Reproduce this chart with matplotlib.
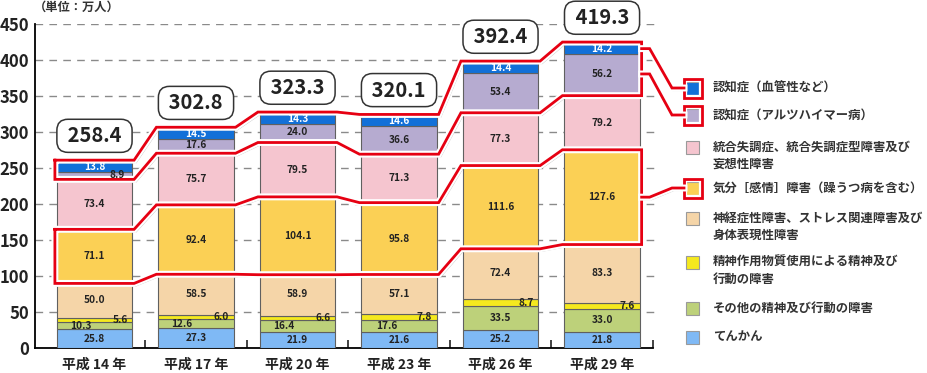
import matplotlib
matplotlib.use('Agg')
import matplotlib.pyplot as plt
import matplotlib.patheffects as pe
from matplotlib.patches import Rectangle
import numpy as np

plt.rcParams['font.family'] = ['Noto Sans CJK JP', 'DejaVu Sans']

# ---------------- data ----------------
years = ['平成 14 年', '平成 17 年', '平成 20 年', '平成 23 年', '平成 26 年', '平成 29 年']
totals = [258.4, 302.8, 323.3, 320.1, 392.4, 419.3]
epilepsy = [25.8, 27.3, 21.9, 21.6, 25.2, 21.8]
other = [10.3, 12.6, 16.4, 17.6, 33.5, 33.0]
substance = [5.6, 6.0, 6.6, 7.8, 8.7, 7.6]
neurotic = [50.0, 58.5, 58.9, 57.1, 72.4, 83.3]
mood = [71.1, 92.4, 104.1, 95.8, 111.6, 127.6]
schizo = [73.4, 75.7, 79.5, 71.3, 77.3, 79.2]
alzheimer = [8.9, 17.6, 24.0, 36.6, 53.4, 56.2]
vascular = [13.8, 14.5, 14.3, 14.6, 14.4, 14.2]

lab_epilepsy = 'てんかん'
lab_other = 'その他の精神及び行動の障害'
lab_substance = '精神作用物質使用による精神及び\n行動の障害'
lab_neurotic = '神経症性障害、ストレス関連障害及び\n身体表現性障害'
lab_mood = '気分［感情］障害（躁うつ病を含む）'
lab_schizo = '統合失調症、統合失調症型障害及び\n妄想性障害'
lab_alz = '認知症（アルツハイマー病）'
lab_vasc = '認知症（血管性など）'
unit_label = '（単位：万人）'
yticks = [0, 50, 100, 150, 200, 250, 300, 350, 400, 450]

# ---------------- styles ----------------
series = [epilepsy, other, substance, neurotic, mood, schizo, alzheimer, vascular]
labels = [lab_epilepsy, lab_other, lab_substance, lab_neurotic, lab_mood, lab_schizo, lab_alz, lab_vasc]
colors = ['#7fb9f5', '#bdd17a', '#f5e91e', '#f5d5a8', '#fbd055', '#f5c5cf', '#b6abd0', '#1270d8']
txtcol = ['#222'] * 7 + ['white']
xoff = [[0] * 6,
        [-0.13, -0.14, -0.14, -0.12, 0, 0],
        [0.25] * 6,
        [0] * 6, [0] * 6, [0] * 6,
        [0.22, 0, 0, 0, 0, 0],
        [0] * 6]

W, H = 927, 373
fig = plt.figure(figsize=(W / 100, H / 100), dpi=100)
ax_l, ax_r, ax_b, ax_t = 35, 660, 348, 24
ax = fig.add_axes([ax_l / W, (H - ax_b) / H, (ax_r - ax_l) / W, (ax_b - ax_t) / H])

n = len(years)
x = np.arange(n)
bw = 0.74
ax.set_xlim(-0.586, 5.571)
ax.set_ylim(0, 450)

bottom = np.zeros(n)
cum = []
for k, (vals, c) in enumerate(zip(series, colors)):
    vals = np.array(vals)
    ax.bar(x, vals, bw, bottom=bottom, color=c, edgecolor='#606060', linewidth=0.8, zorder=3)
    for i in range(n):
        ax.text(x[i] + xoff[k][i], bottom[i] + vals[i] / 2, f'{vals[i]:.1f}',
                ha='center', va='center', fontsize=7.3, fontweight='bold', color=txtcol[k], zorder=6)
    cum.append(bottom.copy())
    bottom = bottom + vals
cum.append(bottom.copy())
tops = bottom

for i in range(n):
    ax.annotate(f' {totals[i]:.1f} ', (x[i], tops[i]), xytext=(0, 11), textcoords='offset points',
                ha='center', va='bottom', fontsize=14.5, fontweight='bold', color='#222',
                bbox=dict(boxstyle='round,pad=0.3,rounding_size=0.55', fc='white', ec='#333', lw=1.1),
                zorder=7)

# axes styling
for s in ['top', 'right']:
    ax.spines[s].set_visible(False)
ax.spines['left'].set_linewidth(1.3)
ax.spines['bottom'].set_linewidth(1.3)
ax.spines['bottom'].set_bounds(-0.586, 5.5)
ax.set_yticks(yticks)
ax.set_yticklabels([str(v) for v in yticks], fontsize=12, fontweight='bold', color='#222')
ax.tick_params(axis='y', length=0, pad=4)
ax.set_xticks(x)
ax.set_xticklabels(years, fontsize=10, fontweight='bold', color='#222')
ax.tick_params(axis='x', length=0, pad=7)
ax.set_xticks(np.arange(n) + 0.5, minor=True)
ax.tick_params(axis='x', which='minor', direction='in', length=6, width=1.2, color='#222')
ax.yaxis.grid(True, linestyle=(0, (5.5, 4.5)), color='#8a8a8a', linewidth=1)
ax.set_axisbelow(True)

red = '#e60012'
peff = [pe.SimpleLineShadow(offset=(1.2, -1.2), shadow_color='#777', alpha=0.5),
        pe.Stroke(linewidth=5, foreground='white'), pe.Normal()]
px, py = 0.02, 2.0


def band(lo, hi):
    xs, ys = [], []
    for i in range(n):
        xs += [x[i] - bw / 2 - px, x[i] + bw / 2 + px]
        ys += [hi[i] + py, hi[i] + py]
    for i in range(n - 1, -1, -1):
        xs += [x[i] + bw / 2 + px, x[i] - bw / 2 - px]
        ys += [lo[i] - py, lo[i] - py]
    xs.append(xs[0]); ys.append(ys[0])
    ax.plot(xs, ys, color=red, lw=2.0, solid_joinstyle='miter', path_effects=peff,
            clip_on=False, zorder=5)


band(cum[6], cum[8])
band(cum[4], cum[5])

# ---------------- overlay (legend etc.) in pixel coordinates ----------------
ov = fig.add_axes([0, 0, 1, 1], zorder=10)
ov.set_xlim(0, W)
ov.set_ylim(H, 0)
ov.axis('off')


def to_px(xd, yd):
    d = ax.transData.transform((xd, yd))
    return d[0], H - d[1]


ov.text(34, 7, unit_label, ha='left', va='center', fontsize=8.8, fontweight='bold', color='#333')

leg_y = [88, 115, 147, 188, 218, 262, 308, 337]
order = list(range(7, -1, -1))
mx, ms, tx = 693, 13, 713
hl = {7, 6, 4}
for j, k in enumerate(order):
    yy = leg_y[j]
    ov.add_patch(Rectangle((mx - ms / 2, yy - ms / 2), ms, ms, fc=colors[k], ec='#9a9a9a', lw=0.8))
    lines = labels[k].split('\n')
    for li, t in enumerate(lines):
        ov.text(tx, yy + li * 17.5, t, ha='left', va='center', fontsize=8.9,
                fontweight='bold', color='#333')
    if k in hl:
        ov.add_patch(Rectangle((mx - 9, yy - 9.5), 18, 19, fill=False, ec=red, lw=2.0,
                               path_effects=[pe.Stroke(linewidth=4.5, foreground='white'), pe.Normal()]))
        seg_mid = cum[k][n - 1] + series[k][n - 1] / 2
        bx, by = to_px(x[n - 1] + bw / 2 + px, seg_mid)
        xs = [bx, bx + 8, mx - 9 - 12, mx - 9]
        ys = [by, by, yy, yy]
        ov.plot(xs, ys, color=red, lw=2.0, path_effects=peff, solid_joinstyle='miter', zorder=4)

fig.savefig('out.png', dpi=100)
